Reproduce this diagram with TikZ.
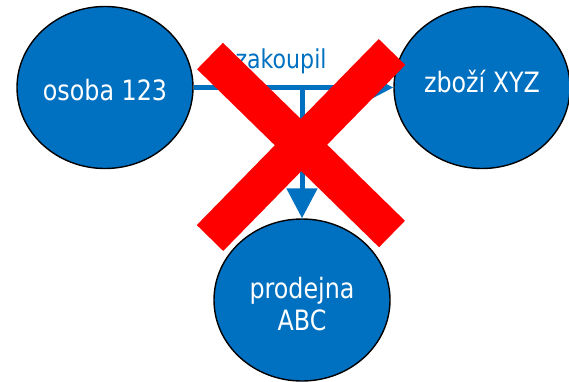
\documentclass[tikz,border=0pt]{standalone}
\usepackage{fontspec}
\setmainfont{DejaVu Sans}[FakeStretch=0.85]
\usetikzlibrary{shapes.geometric,arrows.meta}
\definecolor{mblue}{RGB}{0,112,192}
\definecolor{mred}{RGB}{255,0,0}
\begin{document}
\begin{tikzpicture}[x=1pt,y=-1pt,
  ent/.style={ellipse,draw=black,line width=1.4pt,fill=mblue,text=white,
    minimum width=176pt,minimum height=162pt,inner sep=0pt,align=center,
    font=\fontsize{28}{32}\selectfont},
  conn/.style={draw=mblue,line width=5pt},
  tip/.style={-{Triangle[length=30pt,width=30pt]}},
  bar/.style={draw=mred,line width=37pt,line cap=butt}]
\useasboundingbox (0,0) rectangle (569,381);
\node[ent,text height=30pt,text depth=5pt] (osoba) at (105,87.5) {osoba 123};
\node[ent,text height=20pt,text depth=10pt] (zbozi) at (482,87.5) {zboží XYZ};
\node[ent,text height=60pt,text depth=0pt] (prodejna) at (302,300) {prodejna\\ABC};
\coordinate (j) at (302,87.5);
\draw[conn,tip] (osoba.east) -- (zbozi.west);
\draw[conn,tip] (j) -- (prodejna.north);
\node[text=mblue,anchor=base,inner sep=0pt,font=\fontsize{26}{30}\selectfont] (lbl) at (281,68) {zakoupil};
\coordinate (a1) at (210,56);
\coordinate (a2) at (392,234);
\coordinate (b1) at (392,52);
\coordinate (b2) at (210,238);
\draw[bar] (a1) -- (a2);
\draw[bar] (b1) -- (b2);
\end{tikzpicture}
\end{document}
